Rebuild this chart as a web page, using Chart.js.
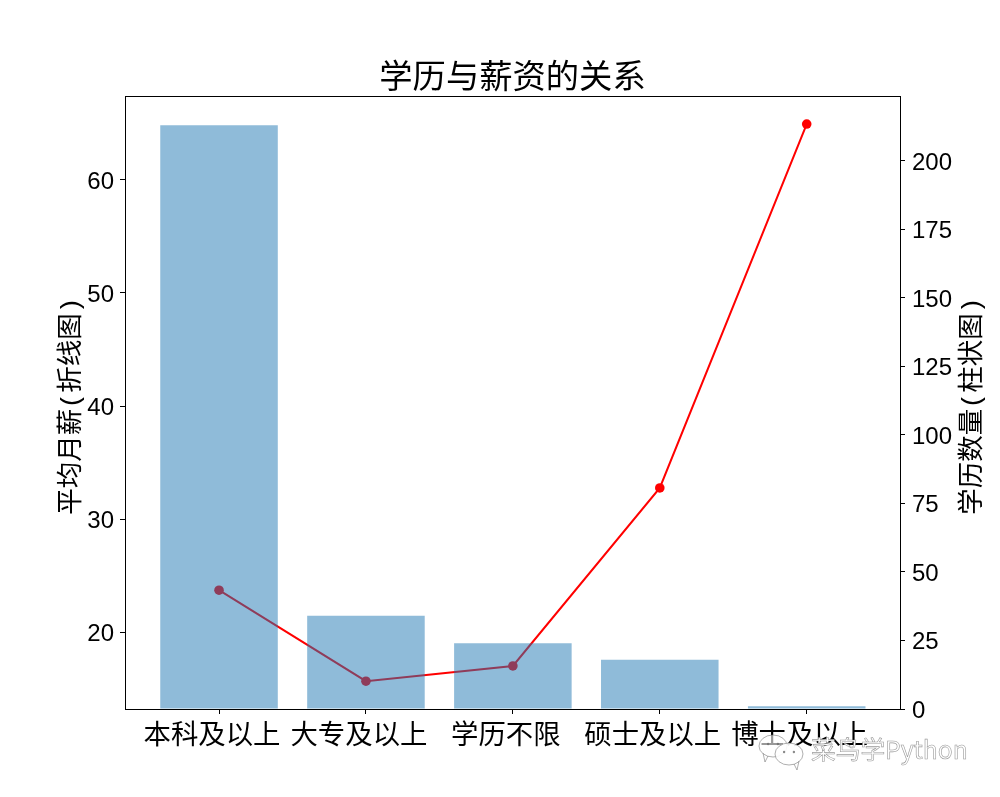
<!DOCTYPE html>
<html>
<head>
<meta charset="utf-8">
<title>学历与薪资的关系</title>
<script src="https://cdn.jsdelivr.net/npm/chart.js@4"></script>
<style>
    html, body { margin: 0; padding: 0; background: #fff; }
    canvas { display: block; }
</style>
</head>
<body>
<canvas id="salaryChart" width="1000" height="797"></canvas>
<script>
var categories = ["本科及以上", "大专及以上", "学历不限", "硕士及以上", "博士及以上"];
var degreeCounts = [213, 34, 24, 18, 1];
var avgSalary = [23.7, 15.65, 17.0, 32.75, 64.95];

var cjkFont = '"Noto Sans CJK SC", "Liberation Sans", sans-serif';
var digitFont = '"Liberation Sans", "Noto Sans CJK SC", sans-serif';
// mono only picks up the half width brackets, the rest falls through to Noto
var axisTitleFont = '"Liberation Mono", "Noto Sans CJK SC", sans-serif';

function toPoints(values) {
    var points = [];
    for (var i = 0; i < values.length; i += 1) {
        points.push({ x: i, y: values[i] });
    }
    return points;
}

function drawAxisTitle(ctx, text, x) {
    ctx.save();
    ctx.translate(x, 406);
    ctx.rotate(-Math.PI / 2);
    ctx.font = '26.5px ' + axisTitleFont;
    ctx.fillStyle = '#000';
    ctx.textAlign = 'center';
    ctx.textBaseline = 'middle';
    ctx.fillText(text, 0, 0);
    ctx.restore();
}

// frame, axis titles (chart.js flips the right one, both read bottom to top here) and watermark
var extrasPlugin = {
    id: 'extras',
    afterDraw: function (chart) {
        var ctx = chart.ctx;
        var area = chart.chartArea;

        ctx.save();
        ctx.strokeStyle = '#000';
        ctx.lineWidth = 1;
        ctx.strokeRect(area.left + 0.5, area.top + 0.5, area.right - area.left, area.bottom - area.top);
        ctx.restore();

        drawAxisTitle(ctx, '平均月薪(折线图)', 71.5);
        drawAxisTitle(ctx, '学历数量(柱状图)', 973);
        drawWatermark(ctx);
    }
};

function drawBubble(ctx, cx, cy, rx, ry, tailDir) {
    ctx.beginPath();
    ctx.ellipse(cx, cy, rx, ry, 0, 0, Math.PI * 2);
    ctx.moveTo(cx + tailDir * 5, cy + ry - 1);
    ctx.lineTo(cx + tailDir * 8, cy + ry + 5);
    ctx.lineTo(cx + tailDir * 10, cy + ry - 4);
    ctx.fill();
    ctx.stroke();
    ctx.fillStyle = 'rgba(110,110,110,0.8)';
    ctx.beginPath();
    ctx.arc(cx - rx * 0.35, cy - 2, 1.2, 0, Math.PI * 2);
    ctx.arc(cx + rx * 0.35, cy - 2, 1.2, 0, Math.PI * 2);
    ctx.fill();
    ctx.fillStyle = 'rgba(255,255,255,0.75)';
}

function drawWatermark(ctx) {
    ctx.save();
    ctx.strokeStyle = 'rgba(120,120,120,0.75)';
    ctx.fillStyle = 'rgba(255,255,255,0.6)';
    ctx.lineWidth = 0.8;
    drawBubble(ctx, 773, 746, 14, 11, -1);
    ctx.fillStyle = 'rgba(255,255,255,0.9)';
    drawBubble(ctx, 789, 754, 14, 11, 1);

    ctx.font = '24.7px ' + cjkFont;
    ctx.textAlign = 'left';
    ctx.textBaseline = 'middle';
    ctx.fillStyle = '#fff';
    ctx.strokeStyle = 'rgba(110,110,110,0.7)';
    ctx.lineWidth = 0.6;
    ctx.fillText('菜鸟学Python', 811, 750);
    ctx.strokeText('菜鸟学Python', 811, 750);
    ctx.restore();
}

var ctx = document.getElementById('salaryChart').getContext('2d');

var salaryChart = new Chart(ctx, {
    type: 'bar',
    data: {
        datasets: [
            {
                type: 'bar',
                label: '学历数量',
                data: toPoints(degreeCounts),
                yAxisID: 'yCount',
                xAxisID: 'x',
                backgroundColor: 'rgba(31,119,180,0.5)',
                borderWidth: 0,
                barPercentage: 0.8,
                categoryPercentage: 1,
                order: 1
            },
            {
                type: 'line',
                label: '平均月薪',
                data: toPoints(avgSalary),
                yAxisID: 'ySalary',
                xAxisID: 'x',
                borderColor: '#ff0000',
                backgroundColor: '#ff0000',
                borderWidth: 2,
                pointRadius: 4.8,
                pointBorderWidth: 0,
                tension: 0,
                clip: false,
                order: 2
            }
        ]
    },
    options: {
        responsive: false,
        animation: false,
        plugins: {
            legend: { display: false },
            tooltip: { enabled: false },
            title: {
                display: true,
                text: '学历与薪资的关系',
                fullSize: false,
                color: '#000',
                font: { family: cjkFont, size: 33.3, weight: 'normal', lineHeight: 1.2 },
                padding: { top: 55, bottom: 1.04 }
            }
        },
        scales: {
            x: {
                type: 'linear',
                position: 'bottom',
                offset: false,
                min: -0.64,
                max: 4.635,
                afterFit: function (scale) { scale.height = 88; },
                border: { color: '#000', width: 1 },
                grid: { offset: false, drawOnChartArea: false, tickLength: 5, tickColor: '#000', tickWidth: 1 },
                ticks: {
                    stepSize: 1,
                    includeBounds: false,
                    autoSkip: false,
                    maxRotation: 0,
                    padding: 3,
                    labelOffset: -7,
                    color: '#000',
                    font: { family: cjkFont, size: 27.4 },
                    callback: function (value) { return categories[value]; }
                }
            },
            ySalary: {
                type: 'linear',
                position: 'left',
                min: 13.19,
                max: 67.43,
                afterFit: function (scale) { scale.width = 125; },
                border: { color: '#000', width: 1 },
                grid: { drawOnChartArea: false, tickLength: 5, tickColor: '#000', tickWidth: 1 },
                ticks: {
                    stepSize: 10,
                    includeBounds: false,
                    padding: 6,
                    labelOffset: 2,
                    color: '#000',
                    font: { family: digitFont, size: 24 }
                }
            },
            yCount: {
                type: 'linear',
                position: 'right',
                min: 0,
                max: 223.7,
                afterFit: function (scale) { scale.width = 100; },
                border: { color: '#000', width: 1 },
                grid: { drawOnChartArea: false, tickLength: 5, tickColor: '#000', tickWidth: 1 },
                ticks: {
                    stepSize: 25,
                    includeBounds: false,
                    padding: 7,
                    labelOffset: 2,
                    color: '#000',
                    font: { family: digitFont, size: 24 }
                }
            }
        }
    },
    plugins: [extrasPlugin]
});
</script>
</body>
</html>
